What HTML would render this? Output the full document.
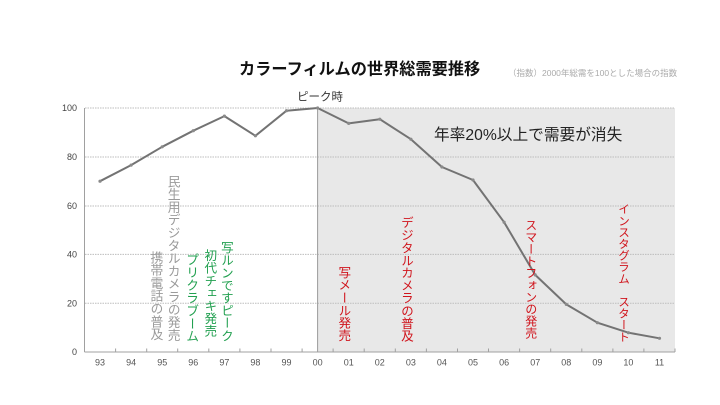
<!DOCTYPE html>
<html><head><meta charset="utf-8"><style>
html,body{margin:0;padding:0;background:#fff;}
#c{position:relative;width:720px;height:405px;overflow:hidden;font-family:"Liberation Sans","Noto Sans CJK JP",sans-serif;}
.v{position:absolute;writing-mode:vertical-rl;line-height:1;white-space:nowrap;font-family:"Noto Sans CJK JP",sans-serif;}
.g{color:#9a9a9a;}
.gr{color:#22a050;}
.r{color:#d0141c;}
</style></head><body><div id="c">
<svg width="720" height="405" style="position:absolute;left:0;top:0">
<rect x="317.6" y="108" width="357.4" height="244" fill="#e8e8e8"/>
<g stroke="#bdbdbd" stroke-width="1" stroke-dasharray="1.5,1">
<line x1="85" y1="108" x2="675" y2="108"/>
<line x1="85" y1="157" x2="675" y2="157"/>
<line x1="85" y1="206" x2="675" y2="206"/>
<line x1="85" y1="254.4" x2="675" y2="254.4"/>
<line x1="85" y1="303.2" x2="675" y2="303.2"/>
</g>
<line x1="317.6" y1="108" x2="317.6" y2="352" stroke="#9a9a9a" stroke-width="1"/>
<line x1="84.5" y1="108" x2="84.5" y2="352" stroke="#a0a0a0" stroke-width="1"/>
<line x1="84.5" y1="352" x2="675" y2="352" stroke="#a0a0a0" stroke-width="1"/>
<g stroke="#a0a0a0" stroke-width="1">
<line x1="115.6" y1="348.5" x2="115.6" y2="352"/><line x1="146.7" y1="348.5" x2="146.7" y2="352"/>
<line x1="177.7" y1="348.5" x2="177.7" y2="352"/><line x1="208.8" y1="348.5" x2="208.8" y2="352"/>
<line x1="239.9" y1="348.5" x2="239.9" y2="352"/><line x1="271" y1="348.5" x2="271" y2="352"/>
<line x1="302.1" y1="348.5" x2="302.1" y2="352"/><line x1="333.1" y1="348.5" x2="333.1" y2="352"/>
<line x1="364.2" y1="348.5" x2="364.2" y2="352"/><line x1="395.3" y1="348.5" x2="395.3" y2="352"/>
<line x1="426.4" y1="348.5" x2="426.4" y2="352"/><line x1="457.5" y1="348.5" x2="457.5" y2="352"/>
<line x1="488.5" y1="348.5" x2="488.5" y2="352"/><line x1="519.6" y1="348.5" x2="519.6" y2="352"/>
<line x1="550.7" y1="348.5" x2="550.7" y2="352"/><line x1="581.8" y1="348.5" x2="581.8" y2="352"/>
<line x1="612.9" y1="348.5" x2="612.9" y2="352"/><line x1="643.9" y1="348.5" x2="643.9" y2="352"/>
<line x1="675" y1="348.5" x2="675" y2="352"/>
</g>
<polyline fill="none" stroke="#737373" stroke-width="2" stroke-linejoin="round" points="100,181.2 131.1,165.1 162.2,146.8 193.3,130.7 224.4,116.1 255.4,135.8 286.5,110.7 317.6,108 348.7,123.4 379.8,119.2 410.9,139.2 441.9,167 473,180 504.1,222.2 535.2,274.9 566.3,304.4 597.4,322.7 628.4,332.7 659.5,338.3"/>
<g fill="#8a8a8a">
<circle cx="100" cy="181.2" r="1.6"/><circle cx="131.1" cy="165.1" r="1.6"/><circle cx="162.2" cy="146.8" r="1.6"/>
<circle cx="193.3" cy="130.7" r="1.6"/><circle cx="224.4" cy="116.1" r="1.6"/><circle cx="255.4" cy="135.8" r="1.6"/>
<circle cx="286.5" cy="110.7" r="1.6"/><circle cx="317.6" cy="108" r="1.6"/><circle cx="348.7" cy="123.4" r="1.6"/>
<circle cx="379.8" cy="119.2" r="1.6"/><circle cx="410.9" cy="139.2" r="1.6"/><circle cx="441.9" cy="167" r="1.6"/>
<circle cx="473" cy="180" r="1.6"/><circle cx="504.1" cy="222.2" r="1.6"/><circle cx="535.2" cy="274.9" r="1.6"/>
<circle cx="566.3" cy="304.4" r="1.6"/><circle cx="597.4" cy="322.7" r="1.6"/><circle cx="628.4" cy="332.7" r="1.6"/>
<circle cx="659.5" cy="338.3" r="1.6"/>
</g>
<g font-family="Liberation Sans, sans-serif" font-size="9" fill="#444" text-anchor="end">
<text x="77" y="111">100</text><text x="77" y="160">80</text><text x="77" y="209">60</text>
<text x="77" y="257.5">40</text><text x="77" y="306.3">20</text><text x="77" y="355">0</text>
</g>
<g font-family="Liberation Sans, sans-serif" font-size="9" fill="#555" text-anchor="middle">
<text x="100" y="365.5">93</text><text x="131.1" y="365.5">94</text><text x="162.2" y="365.5">95</text>
<text x="193.3" y="365.5">96</text><text x="224.4" y="365.5">97</text><text x="255.4" y="365.5">98</text>
<text x="286.5" y="365.5">99</text><text x="317.6" y="365.5">00</text><text x="348.7" y="365.5">01</text>
<text x="379.8" y="365.5">02</text><text x="410.9" y="365.5">03</text><text x="441.9" y="365.5">04</text>
<text x="473" y="365.5">05</text><text x="504.1" y="365.5">06</text><text x="535.2" y="365.5">07</text>
<text x="566.3" y="365.5">08</text><text x="597.4" y="365.5">09</text><text x="628.4" y="365.5">10</text>
<text x="659.5" y="365.5">11</text>
</g>
<text x="239" y="74.5" font-family="Liberation Sans, Noto Sans CJK JP, sans-serif" font-size="16.2" font-weight="bold" fill="#111">カラーフィルムの世界総需要推移</text>
<text x="508" y="76" font-family="Liberation Sans, Noto Sans CJK JP, sans-serif" font-size="8.5" fill="#aaa">（指数）2000年総需を100とした場合の指数</text>
<text x="297" y="100.5" font-family="Liberation Sans, Noto Sans CJK JP, sans-serif" font-size="11.5" fill="#333">ピーク時</text>
<text x="434" y="139.8" font-family="Liberation Sans, Noto Sans CJK JP, sans-serif" font-size="15.7" fill="#222">年率20%以上で需要が消失</text>
</svg>
<div class="v g" style="left:149.6px;top:251px;font-size:12.8px">携帯電話の普及</div>
<div class="v g" style="left:166.9px;top:175px;font-size:12.8px">民生用デジタルカメラの発売</div>
<div class="v gr" style="left:185.3px;top:253px;font-size:12.8px">プリクラブーム</div>
<div class="v gr" style="left:203.7px;top:249px;font-size:12.6px">初代チェキ発売</div>
<div class="v gr" style="left:220.4px;top:241px;font-size:12.6px">写ルンですピーク</div>
<div class="v r" style="left:337.7px;top:266px;font-size:12.6px">写メール発売</div>
<div class="v r" style="left:400.4px;top:216px;font-size:12.6px">デジタルカメラの普及</div>
<div class="v r" style="left:524.7px;top:218.5px;font-size:12px">スマートフォンの発売</div>
<div class="v r" style="left:617.5px;top:202.5px;font-size:11.6px">インスタグラム　スタート</div>
</div></body></html>
